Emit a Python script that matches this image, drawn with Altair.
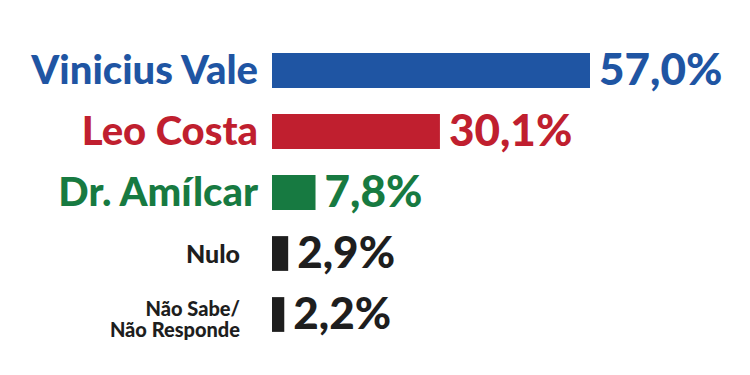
import altair as alt
import pandas as pd

names = ["Vinicius Vale", "Leo Costa", "Dr. Amílcar", "Nulo", "Não Sabe/\nNão Responde"]
values = [57.0, 30.1, 7.8, 2.9, 2.2]
value_labels = ["57,0%", "30,1%", "7,8%", "2,9%", "2,2%"]
colors = ["#1f55a3", "#c01f2f", "#177a41", "#1e1e1e", "#1e1e1e"]
group = ["cand", "cand", "cand", "nulo", "ns"]

df = pd.DataFrame({
    "name": names,
    "value": values,
    "vlabel": value_labels,
    "color": colors,
    "grp": group,
})

FONT = "Lato"

y = alt.Y("name:N", sort=names, axis=None,
          scale=alt.Scale(paddingInner=0.43, paddingOuter=0.215))
x = alt.X("value:Q", axis=None, scale=alt.Scale(domain=[0, 57], nice=False, zero=True))
col = alt.Color("color:N", scale=None)

base = alt.Chart(df)

bars = base.mark_bar(cornerRadius=0).encode(x=x, y=y, color=col)

vals = base.mark_text(align="left", baseline="middle", dx=9, dy=1, font=FONT,
                      fontWeight=900, fontSize=44).encode(
    x=x, y=y, text="vlabel:N", color=col
)

big_labels = base.transform_filter("datum.grp == 'cand'").mark_text(
    align="right", baseline="middle", font=FONT, fontWeight=900, fontSize=40, dy=1
).encode(x=alt.value(-14), y=y, text="name:N", color=col)

nulo_label = base.transform_filter("datum.grp == 'nulo'").mark_text(
    align="right", baseline="middle", font=FONT, fontWeight=900, fontSize=25, dy=1
).encode(x=alt.value(-32), y=y, text="name:N", color=col)

ns_label = base.transform_filter("datum.grp == 'ns'").mark_text(
    align="right", baseline="middle", font=FONT, fontWeight=900, fontSize=20,
    lineBreak="\n", lineHeight=21, dy=-5
).encode(x=alt.value(-32), y=y, text="name:N", color=col)

chart = alt.layer(bars, vals, big_labels, nulo_label, ns_label).properties(
    width=318, height=305,
    autosize=alt.AutoSizeParams(type="none"),
    padding={"left": 264, "top": 32, "right": 152, "bottom": 22},
    background="white",
).configure_view(strokeWidth=0)

chart.save("out.html", embed_options={"renderer": "svg", "actions": False})
